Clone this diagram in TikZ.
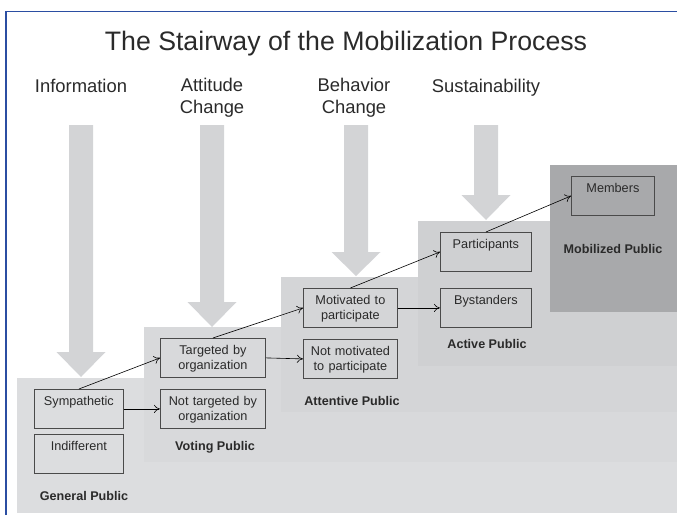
\documentclass[tikz,border=0pt]{standalone}
\usepackage{fontspec}
\setmainfont{Liberation Sans}
\usetikzlibrary{arrows.meta}

\definecolor{framecol}{HTML}{2B4EA2}
\definecolor{bigarrow}{HTML}{D3D4D6}
\definecolor{genpub}{HTML}{DCDDDF}
\definecolor{votepub}{HTML}{D8D9DB}
\definecolor{attnpub}{HTML}{D4D5D7}
\definecolor{actvpub}{HTML}{CFD0D2}
\definecolor{moblpub}{HTML}{A8A9AB}
\definecolor{boxline}{HTML}{4A4A4A}
\definecolor{txt}{HTML}{2A2A2A}

\tikzset{
  grp/.style={draw=boxline, line width=0.8pt, anchor=north west,
    text width=#1, align=center, inner xsep=0pt, inner ysep=5pt,
    text height=11pt, text depth=18pt, minimum height=39pt,
    font=\fontsize{12.7}{15}\selectfont, text=txt},
  phase/.style={anchor=base, align=center, text=txt,
    font=\fontsize{18.4}{22}\selectfont},
  pubname/.style={anchor=base, text=txt,
    font=\fontsize{12.6}{15}\selectfont\bfseries},
  link/.style={->, line width=0.6pt},
}

\begin{document}
\begin{tikzpicture}[x=1pt, y=-1pt, >={To[length=6pt,width=8pt]}]
  \useasboundingbox (0,0) rectangle (677,515);
  % Frame
  \draw[framecol, line width=1.5pt] (6,515) -- (6,11.5) -- (677,11.5);
  % Title
  \node[anchor=base, text=txt, font=\fontsize{26.7}{30}\selectfont] (title) at (346,50)
    {The Stairway of the Mobilization Process};
  % Steps
  \fill[genpub] (17,378) rectangle (677,513);
  \fill[votepub] (144,327) rectangle (677,462);
  \fill[attnpub] (281,277) rectangle (677,412);
  \fill[actvpub] (418,221) rectangle (677,366);
  \fill[moblpub] (550,165) rectangle (677,312);
  % Big arrows
  \foreach \x/\h/\t in {81/352/377, 212/302/327, 356/252/276, 486/195/220}
    \fill[bigarrow] (\x-12,125) -- (\x+12,125) -- (\x+12,\h) -- (\x+24.5,\h)
      -- (\x,\t) -- (\x-24.5,\h) -- (\x-12,\h) -- cycle;
  % Phases (base = last line)
  \node[phase] (info) at (81,92) {Information};
  \node[phase] (att) at (212,113.5) {Attitude\\Change};
  \node[phase] (beh) at (354,113.5) {Behavior\\Change};
  \node[phase] (sus) at (486,92) {Sustainability};
  % Groups
  \node[grp=89pt] (symp) at (34,389) {Sympathetic};
  \node[grp=89pt] (indif) at (34,434) {Indifferent};
  \node[grp=105pt] (targ) at (160,338) {Targeted by\\organization};
  \node[grp=105pt] (ntarg) at (160,389) {Not targeted by\\organization};
  \node[grp=94pt] (motiv) at (303,288) {Motivated to\\participate};
  \node[grp=94pt] (nmotiv) at (303,339) {Not motivated\\to participate};
  \node[grp=91pt] (part) at (440,232) {Participants};
  \node[grp=91pt] (byst) at (440,288) {Bystanders};
  \node[grp=83pt] (memb) at (571,176) {Members};
  % Publics
  \node[pubname] (gen) at (84,500.5) {General Public};
  \node[pubname] (vote) at (215,450.5) {Voting Public};
  \node[pubname] (attn) at (352,405.5) {Attentive Public};
  \node[pubname] (actv) at (487,348.5) {Active Public};
  \node[pubname] (mobl) at (613,253.5) {Mobilized Public};
  % Links
  \draw[link] (symp.north) -- (targ.west);
  \draw[link] (symp.east) -- (ntarg.west);
  \draw[link] (targ.north) -- (motiv.west);
  \draw[link] (targ.east) -- (nmotiv.west);
  \draw[link] (motiv.north) -- (part.west);
  \draw[link] (motiv.east) -- (byst.west);
  \draw[link] (part.north) -- (memb.west);
\end{tikzpicture}
\end{document}
